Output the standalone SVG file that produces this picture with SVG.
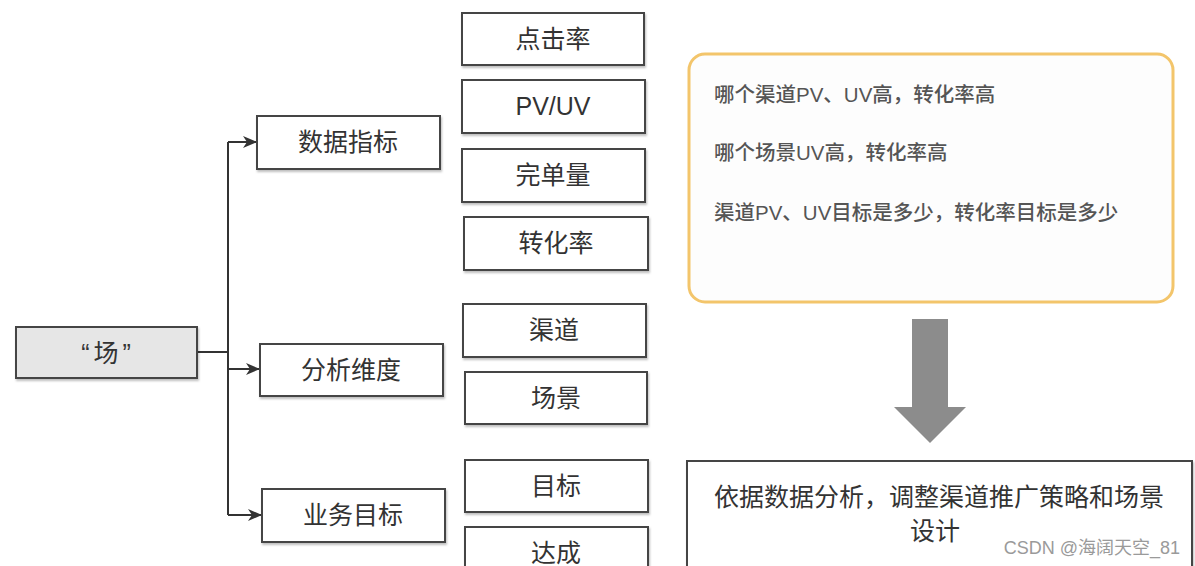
<svg xmlns="http://www.w3.org/2000/svg" width="1195" height="566" viewBox="0 0 1195 566">
<defs>
<marker id="ah" markerWidth="14" markerHeight="12" refX="13" refY="6" orient="auto" markerUnits="userSpaceOnUse">
<path d="M0,0 L14,6 L0,12 L4,6 Z" fill="#333"/>
</marker>
<filter id="sh" x="-5%" y="-10%" width="110%" height="130%">
<feDropShadow dx="1" dy="2" stdDeviation="1.2" flood-color="#000" flood-opacity="0.25"/>
</filter>
</defs>
<style>
.box{fill:#fff;stroke:#444;stroke-width:2;filter:url(#sh)}
.root{fill:#e6e6e6;stroke:#444;stroke-width:2;filter:url(#sh)}
.t{font-family:"Liberation Sans","Noto Sans CJK SC",sans-serif;font-size:25px;fill:#333;text-anchor:middle}
.c{fill:none;stroke:#333;stroke-width:2}
.q{font-family:"Liberation Sans","Noto Sans CJK SC",sans-serif;font-size:20.5px;fill:#555;font-weight:500}
</style>
<rect width="1195" height="566" fill="#fff"/>

<g id="connectors">
<path class="c" d="M197,352 H228"/>
<path class="c" d="M228,142 V515"/>
<path class="c" d="M228,142 H256" marker-end="url(#ah)"/>
<path class="c" d="M228,369 H259" marker-end="url(#ah)"/>
<path class="c" d="M228,515 H261" marker-end="url(#ah)"/>
</g>

<g id="root">
<rect class="root" x="16" y="327" width="181" height="51"/>
<text class="t" x="108" y="362" font-size="26" letter-spacing="4">“场”</text>
</g>

<g id="n-data">
<rect class="box" x="257" y="116" width="183" height="53"/>
<text class="t" x="348" y="151">数据指标</text>
</g>
<g id="n-dim">
<rect class="box" x="260" y="344" width="183" height="52"/>
<text class="t" x="351" y="379">分析维度</text>
</g>
<g id="n-goal">
<rect class="box" x="262" y="489" width="183" height="53"/>
<text class="t" x="353" y="524">业务目标</text>
</g>

<g id="n-click">
<rect class="box" x="462" y="13" width="182" height="52"/>
<text class="t" x="553" y="48">点击率</text>
</g>
<g id="n-pvuv">
<rect class="box" x="462" y="80" width="183" height="53"/>
<text class="t" x="553" y="115">PV/UV</text>
</g>
<g id="n-orders">
<rect class="box" x="462" y="149" width="183" height="53"/>
<text class="t" x="553" y="184">完单量</text>
</g>
<g id="n-conv">
<rect class="box" x="464" y="217" width="184" height="53"/>
<text class="t" x="556" y="252">转化率</text>
</g>
<g id="n-channel">
<rect class="box" x="463" y="304" width="183" height="53"/>
<text class="t" x="554" y="339">渠道</text>
</g>
<g id="n-scene">
<rect class="box" x="465" y="372" width="182" height="52"/>
<text class="t" x="556" y="407">场景</text>
</g>
<g id="n-target">
<rect class="box" x="465" y="460" width="183" height="52"/>
<text class="t" x="556" y="495">目标</text>
</g>
<g id="n-reach">
<rect class="box" x="465" y="527" width="183" height="60"/>
<text class="t" x="556" y="562">达成</text>
</g>

<g id="questions">
<rect x="689" y="54" width="484" height="248" rx="16" fill="#fdfdfd" stroke="#f3c56b" stroke-width="3"/>
<text class="q" x="714" y="102">哪个渠道PV、UV高，转化率高</text>
<text class="q" x="714" y="160">哪个场景UV高，转化率高</text>
<text class="q" x="714" y="220">渠道PV、UV目标是多少，转化率目标是多少</text>
</g>

<g id="big-arrow">
<path d="M912,319 H948 V407 H966 L930,443 L894,407 H912 Z" fill="#8c8c8c"/>
</g>

<g id="result">
<rect class="box" x="687" y="461" width="505" height="120"/>
<text class="t" x="939" y="506" font-size="26.5">依据数据分析，调整渠道推广策略和场景</text>
<text class="t" x="935" y="540" font-size="26.5">设计</text>
</g>

<text x="1180" y="554" font-family="Liberation Sans,Noto Sans CJK SC,sans-serif" font-size="18" fill="#9a9a9a" text-anchor="end">CSDN @海阔天空_81</text>
</svg>
